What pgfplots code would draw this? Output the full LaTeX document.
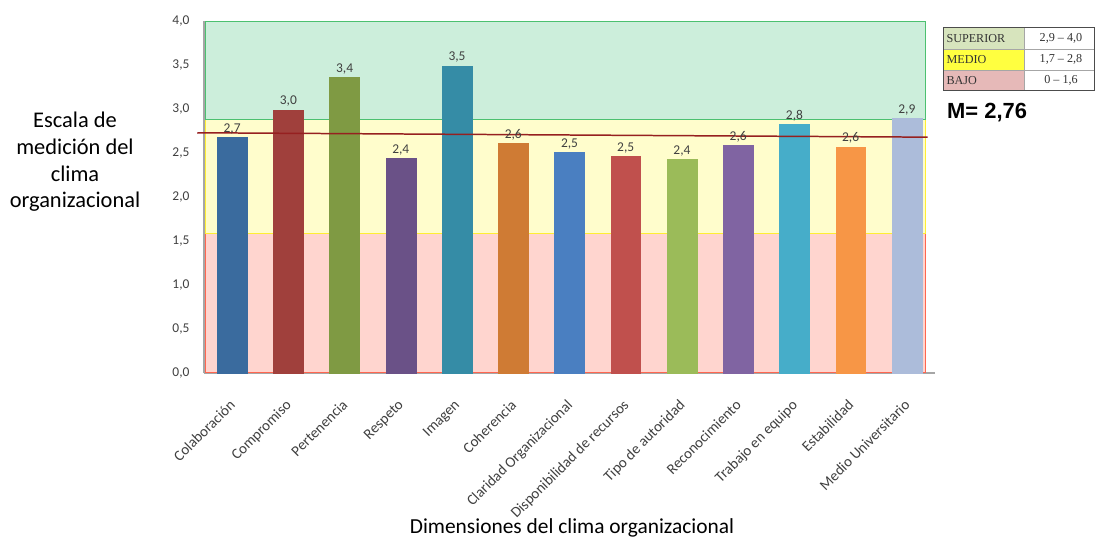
\documentclass[border=0pt]{standalone}
\usepackage{pgfplots}
\pgfplotsset{compat=1.18}
\usepackage{fontspec}
\setmainfont{Carlito}
\newfontfamily\tnr{Liberation Serif}
\newfontfamily\arial{Liberation Sans}

\definecolor{c1}{HTML}{3A6B9E}
\definecolor{c2}{HTML}{A0403C}
\definecolor{c3}{HTML}{7F9A43}
\definecolor{c4}{HTML}{6A5187}
\definecolor{c5}{HTML}{358CA6}
\definecolor{c6}{HTML}{CF7B34}
\definecolor{c7}{HTML}{4A7FC1}
\definecolor{c8}{HTML}{C0504D}
\definecolor{c9}{HTML}{9BBB59}
\definecolor{c10}{HTML}{8064A2}
\definecolor{c11}{HTML}{46ADC9}
\definecolor{c12}{HTML}{F79646}
\definecolor{c13}{HTML}{ACBCDA}
\definecolor{greenfill}{HTML}{CCEEDB}
\definecolor{greenline}{HTML}{4CC070}
\definecolor{yellowfill}{HTML}{FFFDCC}
\definecolor{yellowline}{HTML}{FFEE33}
\definecolor{redfill}{HTML}{FFD5CF}
\definecolor{redline}{HTML}{FF6650}
\definecolor{meanred}{HTML}{962020}
\definecolor{supfill}{HTML}{D7E4BD}
\definecolor{medfill}{HTML}{FFFF40}
\definecolor{bajfill}{HTML}{E6B9B8}
\definecolor{tick}{HTML}{404040}

\pgfplotsset{
  barra/.style={ybar, bar width=0.53, bar shift=0pt, fill=#1, draw=#1,
    nodes near coords={\pgfmathprintnumber[use comma,fixed,fixed zerofill,precision=1,assume math mode=true]{\pgfplotspointmeta}},
    every node near coord/.append style={font=\fontsize{13.5}{15}\selectfont, text=tick, inner sep=3pt}},
}

\begin{document}
\begin{tikzpicture}
\begin{axis}[
    scale only axis,
    width=731bp, height=352bp,
    xmin=-0.5, xmax=12.5, ymin=0, ymax=4,
    clip=false,
    axis x line*=bottom, axis y line*=left,
    axis line style={-, draw=gray!70, line width=1.2pt},
    major tick length=0pt,
    xtick={0,1,2,3,4,5,6,7,8,9,10,11,12},
    xticklabels={Colaboración, Compromiso, Pertenencia, Respeto, Imagen, Coherencia,
      Claridad Organizacional, Disponibilidad de recursos, Tipo de autoridad,
      Reconocimiento, Trabajo en equipo, Estabilidad, Medio Universitario},
    xticklabel style={rotate=45, anchor=north east, font=\fontsize{15}{17}\selectfont,
      text=tick, inner sep=1pt, yshift=-14.5bp, xshift=-19.5bp},
    ytick={0,0.5,1,1.5,2,2.5,3,3.5,4},
    yticklabel style={/pgf/number format/use comma, /pgf/number format/fixed,
      /pgf/number format/fixed zerofill, /pgf/number format/precision=1,
      /pgf/number format/assume math mode=true,
      font=\fontsize{13.5}{15}\selectfont, text=tick, xshift=-11bp},
  ]
  % bandas
  \addplot[fill=redfill, draw=redline, line width=1pt] coordinates
    {(-0.48,0) (12.33,0) (12.33,1.58) (-0.48,1.58)} -- cycle;
  \addplot[fill=yellowfill, draw=yellowline, line width=1pt] coordinates
    {(-0.48,1.58) (12.33,1.58) (12.33,2.88) (-0.48,2.88)} -- cycle;
  \addplot[fill=greenfill, draw=greenline, line width=1pt] coordinates
    {(-0.48,2.88) (12.33,2.88) (12.33,3.995) (-0.48,3.995)} -- cycle;
  % barras
  \addplot[barra=c1]  coordinates {(0,2.68)};
  \addplot[barra=c2]  coordinates {(1,2.99)};
  \addplot[barra=c3]  coordinates {(2,3.36)};
  \addplot[barra=c4]  coordinates {(3,2.44)};
  \addplot[barra=c5]  coordinates {(4,3.49)};
  \addplot[barra=c6]  coordinates {(5,2.61)};
  \addplot[barra=c7]  coordinates {(6,2.51)};
  \addplot[barra=c8]  coordinates {(7,2.46)};
  \addplot[barra=c9]  coordinates {(8,2.43)};
  \addplot[barra=c10] coordinates {(9,2.59)};
  \addplot[barra=c11] coordinates {(10,2.83)};
  \addplot[barra=c12] coordinates {(11,2.57)};
  \addplot[barra=c13] coordinates {(12,2.89)};
  % media
  \addplot[draw=meanred, line width=1.5pt] coordinates {(-0.62,2.73) (12.37,2.68)};
\end{axis}

\begin{scope}[shift={(current axis.south west)}, x=1bp, y=1bp]
  \node[align=center, font=\fontsize{22.5}{26.7}\selectfont] at (-129,211)
    {Escala de\\medición del\\clima\\organizacional};
  \node[font=\fontsize{21.5}{24}\selectfont] at (368,-155) {Dimensiones del clima organizacional};
  % tabla de niveles
  \fill[supfill] (739,324) rectangle (820,345);
  \fill[medfill] (739,303) rectangle (820,324);
  \fill[bajfill] (739,282) rectangle (820,303);
  \draw[gray!70, line width=0.6pt] (739,324) -- (890.5,324) (739,303) -- (890.5,303) (820,282) -- (820,345);
  \draw[black!70, line width=1pt] (739,282) rectangle (890.5,345);
  \begin{scope}[every node/.style={font=\tnr\fontsize{12.2}{14}\selectfont, text=black!80}]
    \node[anchor=west] at (739,334.5) {SUPERIOR};
    \node[anchor=west] at (739,313.5) {MEDIO};
    \node[anchor=west] at (739,292.5) {BAJO};
    \node at (857,334.5) {2,9 – 4,0};
    \node at (857,313.5) {1,7 – 2,8};
    \node at (857,292.5) {0 – 1,6};
  \end{scope}
  \node[anchor=base west, inner sep=0pt, font=\arial\bfseries\fontsize{22}{24}\selectfont] at (743,254) {M= 2,76};
  \pgfresetboundingbox
  \path (-204,-168) rectangle (891,373);
\end{scope}
\end{tikzpicture}
\end{document}
